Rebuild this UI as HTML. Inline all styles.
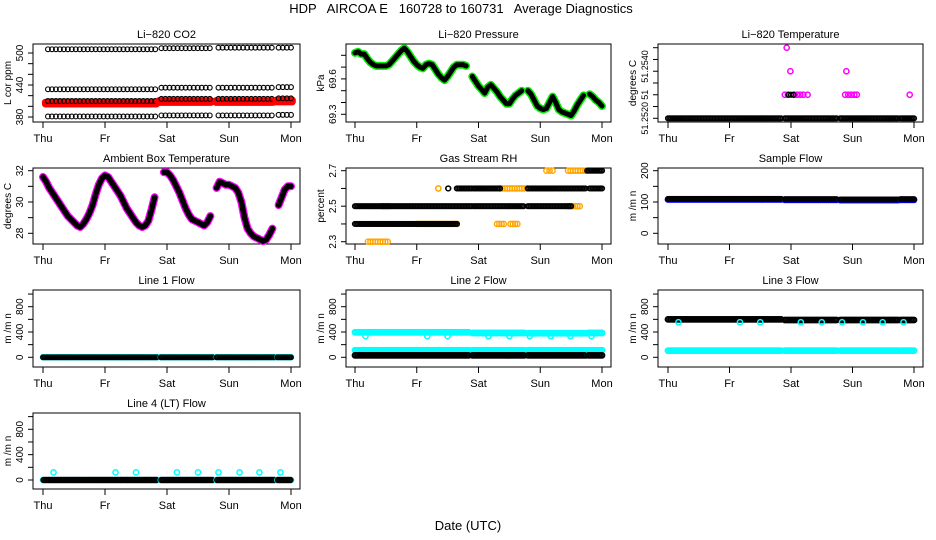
<!DOCTYPE html>
<html><head><meta charset="utf-8"><style>
html,body{margin:0;padding:0;background:#fff;}
svg{display:block;font-family:"Liberation Sans",sans-serif;}
</style></head><body>
<svg id="chart" xmlns="http://www.w3.org/2000/svg" width="936" height="540" viewBox="0 0 936 540">
<rect x="0" y="0" width="936" height="540" fill="#fff"/>
<text x="461" y="13" font-size="13" text-anchor="middle" xml:space="preserve">HDP   AIRCOA E   160728 to 160731   Average Diagnostics</text>
<text x="468" y="530" font-size="13" text-anchor="middle">Date (UTC)</text>
</svg>
<script>
// ---------- data ----------
const dayLabels = ["Thu","Fr","Sat","Sun","Mon"];
const segStart = [0, 1.9, 2.8, 3.78];
const segEnd = [1.84, 2.74, 3.74, 4.0];
const co2SegStart = [0.08, 1.91, 2.83, 3.8];
const co2SegEnd = [1.81, 2.69, 3.69, 4.0];
const co2High = [507, 509, 510, 510];
const co2Mid = [432, 435, 435, 436];
const co2Low = [410, 414, 414, 415];
const co2Base = [381, 383, 383, 384];
const co2Red = [406, 409, 409, 410];
const gridTimes = [0,0.05,0.1,0.15,0.2,0.25,0.3,0.35,0.4,0.45,0.5,0.55,0.6,0.65,0.7,0.75,0.8,0.85,0.9,0.95,1,1.05,1.1,1.15,1.2,1.25,1.3,1.35,1.4,1.45,1.5,1.55,1.6,1.65,1.7,1.75,1.8,1.85,1.9,1.95,2,2.05,2.1,2.15,2.2,2.25,2.3,2.35,2.4,2.45,2.5,2.55,2.6,2.65,2.7,2.75,2.8,2.85,2.9,2.95,3,3.05,3.1,3.15,3.2,3.25,3.3,3.35,3.4,3.45,3.5,3.55,3.6,3.65,3.7,3.75,3.8,3.85,3.9,3.95,4];
const pressure = [69.82,69.83,69.81,69.81,69.77,69.74,69.72,69.71,69.71,69.71,69.71,69.72,69.75,69.78,69.81,69.84,69.86,69.83,69.79,69.75,69.72,69.70,69.69,69.72,69.73,69.72,69.68,69.64,69.61,69.59,69.62,69.66,69.70,69.72,69.72,69.72,69.71,null,69.62,69.58,69.54,69.51,69.48,69.53,69.55,69.52,69.49,69.45,69.42,69.39,69.39,69.43,69.46,69.48,69.50,null,69.50,69.47,69.42,69.37,69.35,69.34,69.35,69.40,69.45,69.40,69.34,69.32,69.31,69.30,69.29,69.33,69.38,69.42,69.46,null,69.47,69.45,69.42,69.40,69.37];
const ambient = [31.6,31.3,30.9,30.6,30.3,30.0,29.7,29.4,29.1,28.9,28.7,28.5,28.4,28.6,28.9,29.3,29.8,30.5,31.1,31.5,31.7,31.6,31.3,31.0,30.7,30.4,30.0,29.6,29.3,29.0,28.7,28.5,28.4,28.5,28.8,29.5,30.3,null,null,31.9,31.9,31.7,31.4,31.0,30.6,30.1,29.6,29.2,28.9,28.8,28.7,28.6,28.5,28.7,29.1,null,30.9,31.3,31.2,31.1,31.1,31.0,30.9,30.6,30.0,29.0,28.3,28.0,27.8,27.7,27.6,27.5,27.6,27.9,28.3,null,29.8,30.3,30.8,31.0,31.0];
const liTempBase = [51.2520, 51.2520, 51.2520, 51.2520];
const liTempPinkT = [1.9,1.95,2.05,2.1,2.15,2.2,2.27,2.88,2.93,2.98,3.03,3.07,3.93,1.99,2.9,1.93];
const liTempPinkV = [51.2530,51.2530,51.2530,51.2530,51.2530,51.2530,51.2530,51.2530,51.2530,51.2530,51.2530,51.2530,51.2530,51.2540,51.2540,51.2550];
const liTempBlackT = [1.96,2.0,2.04];
const liTempBlackV = [51.2530,51.2530,51.2530];
const rhBlackStart = [0,0,1.92,2.8,1.51,1.65,1.92,2.8,3.8,3.76];
const rhBlackEnd = [1.65,1.89,2.73,3.5,1.51,1.89,2.35,3.73,4.0,4.0];
const rhBlackVal = [2.4,2.5,2.5,2.5,2.6,2.6,2.6,2.6,2.6,2.7];
const rhOrangeStart = [0.21,2.3,2.52,3.45,1.35,2.35,3.1,3.45,0.45,1.0];
const rhOrangeEnd = [0.53,2.41,2.63,3.64,1.35,2.78,3.2,3.73,0.55,1.65];
const rhOrangeVal = [2.3,2.4,2.4,2.5,2.6,2.6,2.7,2.7,2.5,2.4];
const sampleFlow = [110, 109, 108, 109];
const line1Black = [0, 0, 0, 0];
const line1Cyan = [2, 2, 2, 2];
const line2High = [395, 385, 380, 385];
const line2Mid = [112, 112, 112, 112];
const line2Low = [30, 30, 30, 30];
const line3Black = [600, 590, 590, 590];
const line3Cyan = [105, 105, 105, 105];
const line4Black = [0, 0, 0, 0];
const outlierTimes = [0.17,1.17,1.5,2.16,2.5,2.83,3.17,3.49,3.83];
const line2Outliers = [335,335,335,335,335,335,335,335,335];
const line3Outliers = [555,555,555,555,555,555,555,555,555];
const line4Outliers = [120,120,120,120,120,120,120,120,120];

// ---------- layout ----------
const NS = "http://www.w3.org/2000/svg";
const svg = document.getElementById("chart");
const colBox = [[33,300],[346,611],[658,923]];
const colTick = [[43,291],[355,602],[668,914]];
const rowBox = [[44,122],[168,244],[290,367],[413,489]];

function mk(tag, attrs, parent) {
  const e = document.createElementNS(NS, tag);
  for (const k in attrs) e.setAttribute(k, attrs[k]);
  (parent || svg).appendChild(e);
  return e;
}
function xScale(col) { const [a,b] = colTick[col]; return t => a + (b - a) * t / 4; }
function yScale(v0, p0, v1, p1) { return v => p0 + (v - v0) * (p1 - p0) / (v1 - v0); }

function panel(name, col, row, title, ytitle, ticks, labels, ys, lblSize) {
  const g = mk("g", {});
  
  
  const [x0,x1] = colBox[col], [y0,y1] = rowBox[row];
  const box = mk("rect", {x:x0, y:y0, width:x1-x0, height:y1-y0, fill:"none", stroke:"#000", "stroke-width":1}, g);
  
  
  const t = mk("text", {x:(x0+x1)/2, y:y0-6, "font-size":11, "text-anchor":"middle"}, g);
  t.textContent = title;
  
  
  const yt = mk("text", {transform:`translate(${x0-22},${(y0+y1)/2}) rotate(-90)`, "font-size":10, "text-anchor":"middle"}, g);
  yt.textContent = ytitle;
  
  
  const xs = xScale(col);
  const xa = mk("line", {x1:xs(0), x2:xs(4), y1:y1, y2:y1, stroke:"#000"}, g);
  
  
  for (let i = 0; i < dayLabels.length; i++) {
    const tk = mk("line", {x1:xs(i), x2:xs(i), y1:y1, y2:y1+6, stroke:"#000"}, g);
    
    
    const tl = mk("text", {x:xs(i), y:y1+20, "font-size":11, "text-anchor":"middle"}, g);
    tl.textContent = dayLabels[i];
    
    
  }
  const ya = mk("line", {x1:x0, x2:x0, y1:ys(ticks[0]), y2:ys(ticks[ticks.length-1]), stroke:"#000"}, g);
  
  
  for (const v of ticks) {
    const tk = mk("line", {x1:x0-5, x2:x0, y1:ys(v), y2:ys(v), stroke:"#000"}, g);
    
    
  }
  for (const [v, s] of labels) {
    const tl = mk("text", {transform:`translate(${x0-10},${ys(v)}) rotate(-90)`, "font-size":lblSize || 10, "text-anchor":"middle"}, g);
    tl.textContent = s;
    
    
  }
  return {g, xs, ys};
}

function ring(p, t, v, color, r, sw, nm) {
  const c = mk("circle", {cx:p.xs(t), cy:p.ys(v), r:r, fill:"none", stroke:color, "stroke-width":sw}, p.g);
  
  
}
function run(p, t0, t1, v, color, r, sw, stepPx, nm) {
  const x0 = p.xs(t0), x1 = p.xs(t1);
  const n = Math.max(1, Math.round((x1 - x0) / stepPx));
  for (let i = 0; i <= n; i++) ring(p, t0 + (t1 - t0) * i / n, v, color, r, sw, nm);
}
function series(p, vals, color, w, nm) {
  let pts = [];
  const flush = () => {
    if (pts.length) {
      const pl = mk("polyline", {points:pts.join(" "), fill:"none", stroke:color, "stroke-width":w, "stroke-linejoin":"round", "stroke-linecap":"round"}, p.g);
      
      
    }
    pts = [];
  };
  for (let i = 0; i < vals.length; i++) {
    if (vals[i] === null) { flush(); continue; }
    pts.push(p.xs(gridTimes[i]).toFixed(1) + "," + p.ys(vals[i]).toFixed(1));
  }
  flush();
}
function seriesRings(p, vals, color, nm) {
  for (let i = 0; i < vals.length; i++) if (vals[i] !== null) ring(p, gridTimes[i], vals[i], color, 2.3, 1, nm);
}

// ---------- Li-820 CO2 ----------
let p = panel("co2", 0, 0, "Li\u2212820 CO2", "L cor ppm", [380,400,420,440,460,480,500], [[380,"380"],[440,"440"],[500,"500"]], yScale(380,117,500,53));
for (let s = 0; s < 4; s++) {
  run(p, co2SegStart[s]-0.04, co2SegEnd[s]+0.02, co2Red[s]+1.5, "#ff0000", 2.6, 2, 1.5, "co2-red-point");
  run(p, co2SegStart[s]-0.04, co2SegEnd[s]+0.02, co2Red[s]-1.5, "#ff0000", 2.6, 2, 1.5, "co2-red-point");
  run(p, co2SegStart[s], co2SegEnd[s], co2High[s], "#000", 2.4, 1.1, 4, "co2-black-point");
  run(p, co2SegStart[s], co2SegEnd[s], co2Mid[s], "#000", 2.4, 1.1, 4, "co2-black-point");
  run(p, co2SegStart[s], co2SegEnd[s], co2Low[s], "#000", 2.4, 1.1, 4, "co2-black-point");
  run(p, co2SegStart[s], co2SegEnd[s], co2Base[s], "#000", 2.4, 1.1, 4, "co2-black-point");
}

// ---------- Li-820 Pressure ----------
p = panel("pressure", 1, 0, "Li\u2212820 Pressure", "kPa", [69.3,69.4,69.5,69.6,69.7,69.8], [[69.3,"69.3"],[69.6,"69.6"]], yScale(69.3,114.3,69.8,55.3));
series(p, pressure, "#00ee00", 8, "pressure-green-line");
series(p, pressure, "#000", 5, "pressure-black-line");

// ---------- Li-820 Temperature ----------
p = panel("li-temp", 2, 0, "Li\u2212820 Temperature", "degrees C", [51.2520,51.2525,51.2530,51.2535,51.2540,51.2545,51.2550], [[51.2520,"51.2520"],[51.2530,"51"],[51.2542,"51.2540"]], yScale(51.2520,118.3,51.2550,47.7), 9);
for (let s = 0; s < 4; s++) run(p, segStart[s], segEnd[s], liTempBase[s], "#000", 2.4, 1.4, 1.5, "li-temp-black-point");
for (let i = 0; i < liTempPinkT.length; i++) ring(p, liTempPinkT[i], liTempPinkV[i], "#ff00ff", 2.6, 1.5, "li-temp-magenta-point");
for (let i = 0; i < liTempBlackT.length; i++) ring(p, liTempBlackT[i], liTempBlackV[i], "#000", 2.4, 1.4, "li-temp-black-point");

// ---------- Ambient Box Temperature ----------
p = panel("ambient", 0, 1, "Ambient Box Temperature", "degrees C", [28,29,30,31,32], [[28,"28"],[30,"30"],[32,"32"]], yScale(28,233.3,32,170.7));
series(p, ambient, "#ff00ff", 8, "ambient-magenta-line");
series(p, ambient, "#000", 5.5, "ambient-black-line");

// ---------- Gas Stream RH ----------
p = panel("rh", 1, 1, "Gas Stream RH", "percent", [2.3,2.4,2.5,2.6,2.7], [[2.3,"2.3"],[2.5,"2.5"],[2.7,"2.7"]], yScale(2.3,241.7,2.7,170.7));
for (let i = 0; i < rhOrangeStart.length; i++) run(p, rhOrangeStart[i], rhOrangeEnd[i], rhOrangeVal[i], "#ffa500", 2.6, 1.4, 2.5, "rh-orange-point");
for (let i = 0; i < rhBlackStart.length; i++) run(p, rhBlackStart[i], rhBlackEnd[i], rhBlackVal[i], "#000", 2.4, 1.4, 1.5, "rh-black-point");

// ---------- Sample Flow ----------
p = panel("sample-flow", 2, 1, "Sample Flow", "m /m n", [0,50,100,150,200], [[0,"0"],[100,"100"],[200,"200"]], yScale(0,233.3,200,170.7));
for (let s = 0; s < 4; s++) {
  run(p, segStart[s], segEnd[s], sampleFlow[s]-2, "#0000ff", 2.7, 1.4, 2, "sample-flow-blue-point");
  run(p, segStart[s], segEnd[s], sampleFlow[s], "#000", 2.3, 1.5, 1.5, "sample-flow-black-point");
}

// ---------- Line flows ----------
const flowTicks = [0,200,400,600,800,1000];
const flowLabels = [[0,"0"],[400,"400"],[800,"800"]];
p = panel("line1-flow", 0, 2, "Line 1 Flow", "m /m n", flowTicks, flowLabels, yScale(0,357.3,800,306.7));
for (let s = 0; s < 4; s++) {
  run(p, segStart[s], segEnd[s], line1Cyan[s], "#00ffff", 2.6, 1.4, 2, "line1-cyan-point");
  run(p, segStart[s], segEnd[s], line1Black[s], "#000", 2.2, 1.5, 1.5, "line1-black-point");
}

p = panel("line2-flow", 1, 2, "Line 2 Flow", "m /m n", flowTicks, flowLabels, yScale(0,357.3,800,306.7));
for (let s = 0; s < 4; s++) {
  run(p, segStart[s], segEnd[s], line2High[s], "#00ffff", 2.6, 1.6, 1.5, "line2-cyan-point");
  run(p, segStart[s], segEnd[s], line2Mid[s], "#00ffff", 2.6, 1.6, 1.5, "line2-cyan-point");
  run(p, segStart[s], segEnd[s], line2Low[s], "#000", 2.6, 1.6, 1.5, "line2-black-point");
}
for (let i = 0; i < outlierTimes.length; i++) ring(p, outlierTimes[i], line2Outliers[i], "#00ffff", 2.6, 1.5, "line2-cyan-outlier");

p = panel("line3-flow", 2, 2, "Line 3 Flow", "m /m n", flowTicks, flowLabels, yScale(0,357.3,800,306.7));
for (let s = 0; s < 4; s++) {
  run(p, segStart[s], segEnd[s], line3Cyan[s], "#00ffff", 2.6, 1.6, 1.5, "line3-cyan-point");
  run(p, segStart[s], segEnd[s], line3Black[s], "#000", 2.6, 1.6, 1.5, "line3-black-point");
}
for (let i = 0; i < outlierTimes.length; i++) ring(p, outlierTimes[i], line3Outliers[i], "#00ffff", 2.6, 1.5, "line3-cyan-outlier");

p = panel("line4-flow", 0, 3, "Line 4 (LT) Flow", "m /m n", flowTicks, flowLabels, yScale(0,480,800,429.3));
for (let s = 0; s < 4; s++) {
  run(p, segStart[s], segEnd[s], line4Black[s], "#00ffff", 2.6, 1.4, 3, "line4-cyan-point");
  run(p, segStart[s]+0.01, segEnd[s]-0.01, line4Black[s], "#000", 2.4, 1.6, 1.5, "line4-black-point");
}
for (let i = 0; i < outlierTimes.length; i++) ring(p, outlierTimes[i], line4Outliers[i], "#00ffff", 2.6, 1.5, "line4-cyan-outlier");
</script>
</body></html>
